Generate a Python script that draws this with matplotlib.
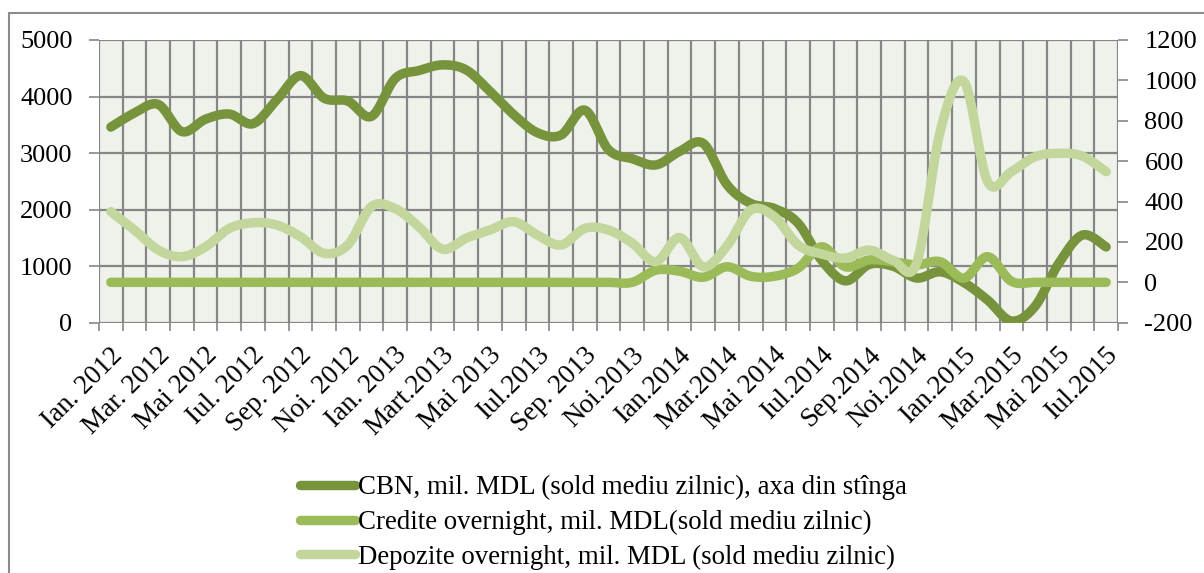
import numpy as np
import matplotlib
matplotlib.use("Agg")
import matplotlib.pyplot as plt
from matplotlib.lines import Line2D
from matplotlib.patches import Rectangle
import matplotlib.transforms as mtransforms

plt.rcParams["axes.unicode_minus"] = False

# ---------------- data ----------------
month_labels = ["Ian. 2012", "Mar. 2012", "Mai 2012", "Iul. 2012", "Sep. 2012", "Noi. 2012",
                "Ian. 2013", "Mart.2013", "Mai 2013", "Iul.2013", "Sep. 2013", "Noi.2013",
                "Ian.2014", "Mar.2014", "Mai 2014", "Iul.2014", "Sep.2014", "Noi.2014",
                "Ian.2015", "Mar.2015", "Mai 2015", "Iul.2015"]

cbn = [3460, 3710, 3860, 3380, 3600, 3690, 3520, 3940, 4370, 3970, 3920, 3650,
       4320, 4460, 4560, 4470, 4090, 3680, 3360, 3320, 3760, 3060, 2900, 2790,
       3030, 3170, 2440, 2110, 2020, 1760, 1100, 740, 1030, 1000, 790, 900,
       710, 400, 30, 290, 1050, 1550, 1340]

credite = [0, 0, 0, 0, 0, 0, 0, 0, 0, 0, 0, 0,
           0, 0, 0, 0, 0, 0, 0, 0, 0, 0, 0, 60,
           55, 25, 77, 30, 30, 70, 176, 77, 111, 102, 86, 102,
           21, 127, 5, 0, 0, 0, 0]

depozite = [350, 259, 160, 127, 176, 267, 295, 284, 226, 144, 185, 375,
            365, 275, 164, 219, 259, 300, 234, 185, 267, 259, 194, 102,
            222, 77, 180, 358, 325, 185, 140, 120, 160, 110, 95, 750,
            994, 498, 548, 622, 639, 625, 548]

series_labels = ["CBN, mil. MDL (sold mediu zilnic), axa din stînga",
                 "Credite overnight, mil. MDL(sold mediu zilnic)",
                 "Depozite overnight, mil. MDL (sold mediu zilnic)"]

c_cbn = "#77933C"
c_cred = "#9BBB59"
c_dep = "#C3D69B"
grid_c = "#868686"
bg_c = "#EFF2EA"

FONT = "Liberation Serif"
FS = 19
LW = 6.8


def smooth(x, y, n=20):
    """Excel-like smoothed line (cubic Bezier, Catmull-Rom control points)."""
    x = np.asarray(x, float)
    y = np.asarray(y, float)
    P = np.column_stack([x, y])
    Pm = np.vstack([P[0], P, P[-1]])
    out = []
    t = np.linspace(0, 1, n, endpoint=False)[:, None]
    for i in range(len(P) - 1):
        p0 = P[i]
        p3 = P[i + 1]
        c1 = p0 + (Pm[i + 2] - Pm[i]) / 6.0
        c2 = p3 - (Pm[i + 3] - Pm[i + 1]) / 6.0
        seg = ((1 - t) ** 3) * p0 + 3 * ((1 - t) ** 2) * t * c1 + 3 * (1 - t) * t ** 2 * c2 + t ** 3 * p3
        out.append(seg)
    out.append(P[-1][None, :])
    out = np.vstack(out)
    return out[:, 0], out[:, 1]


W, H = 1204, 573
fig = plt.figure(figsize=(W / 100, H / 100), dpi=100)
fig.patch.set_facecolor("white")

# outer chart border
fig.patches.append(Rectangle((8.5 / W, -0.1), (W + 20) / W, 1 - 13 / H + 0.1,
                             transform=fig.transFigure, fill=False,
                             edgecolor="#8c8c8c", linewidth=1.5))

x0, x1 = 99, 1118
y0, y1 = 40, 322.7
ax = fig.add_axes([x0 / W, 1 - y1 / H, (x1 - x0) / W, (y1 - y0) / H])
ax2 = ax.twinx()

n = len(cbn)
xc = np.arange(n) + 0.5

ax.set_facecolor(bg_c)
ax.set_xlim(0, n)
ax.set_ylim(0, 5000)
ax2.set_ylim(-200, 1200)

# grid
for v in range(0, n + 1):
    ax.axvline(v, color=grid_c, lw=1.6, zorder=1)
for v in range(0, 5001, 1000):
    ax.axhline(v, color=grid_c, lw=1.6, zorder=1)

sx, sy = smooth(xc, cbn)
ax.plot(sx, sy, color=c_cbn, lw=LW, solid_capstyle="round", solid_joinstyle="round", zorder=3)
sx, sy = smooth(xc, credite)
ax2.plot(sx, sy, color=c_cred, lw=LW, solid_capstyle="round", solid_joinstyle="round", zorder=3)
sx, sy = smooth(xc, depozite)
ax2.plot(sx, sy, color=c_dep, lw=LW, solid_capstyle="round", solid_joinstyle="round", zorder=4)

for s in ["top", "right", "left", "bottom"]:
    ax.spines[s].set_visible(False)
    ax2.spines[s].set_visible(False)

# ticks
ax.set_yticks(range(0, 5001, 1000))
ax.tick_params(axis="y", direction="out", length=7, width=1.2, color=grid_c, pad=12,
               labelsize=FS, labelfontfamily=FONT)
ax2.set_yticks(range(-200, 1201, 200))
ax2.tick_params(axis="y", direction="out", length=7, width=1.2, color=grid_c, pad=12,
                labelsize=FS, labelfontfamily=FONT)
ax.set_xticks(range(0, n + 1))
ax.set_xticklabels([])
ax.tick_params(axis="x", direction="out", length=6, width=1.2, color=grid_c)

# rotated category labels (every second month)
off = mtransforms.ScaledTranslation(-1 / 100, -20 / 100, fig.dpi_scale_trans)
for k, lab in enumerate(month_labels):
    ax.text(2 * k + 0.5, 0, lab, transform=ax.get_xaxis_transform() + off,
            rotation=45, ha="right", va="top", rotation_mode="anchor",
            fontsize=FS + 0.5, family=FONT)

# legend
handles = [Line2D([], [], color=c, lw=LW, solid_capstyle="round") for c in (c_cbn, c_cred, c_dep)]
leg = fig.legend(handles, series_labels, loc="upper left",
                 bbox_to_anchor=(300 / W, 1 - 475 / H), frameon=False,
                 prop={"family": FONT, "size": FS + 0.4}, handlelength=2.05,
                 handletextpad=0.12, labelspacing=0.36, borderaxespad=0, borderpad=0)

fig.savefig("out.png", dpi=100, facecolor="white")
